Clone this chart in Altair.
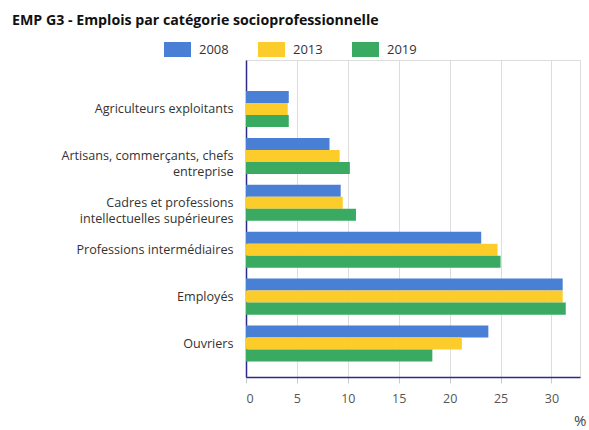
import altair as alt
import pandas as pd

categories = [
    "Agriculteurs exploitants",
    "Artisans, commerçants, chefs\nentreprise",
    "Cadres et professions\nintellectuelles supérieures",
    "Professions intermédiaires",
    "Employés",
    "Ouvriers",
]
years = ["2008", "2013", "2019"]
v2008 = [4.2, 8.2, 9.3, 23.1, 31.1, 23.8]
v2013 = [4.1, 9.2, 9.5, 24.7, 31.1, 21.2]
v2019 = [4.2, 10.2, 10.8, 25.0, 31.4, 18.3]
colors = ["#4a7fd6", "#fccd2a", "#3aaa62"]
x_ticks = [0, 5, 10, 15, 20, 25, 30]

rows = []
for y, vals in zip(years, [v2008, v2013, v2019]):
    for c, v in zip(categories, vals):
        rows.append({"cat": c, "year": y, "value": v})
df = pd.DataFrame(rows)

FONT = "Open Sans"

chart = alt.Chart(df).mark_bar().encode(
    x=alt.X(
        "value:Q",
        scale=alt.Scale(domain=[0, 32.8], nice=False, zero=True),
        axis=alt.Axis(
            values=x_ticks,
            title="%",
            titleAnchor="end",
            titleAlign="right",
            titleX=340,
            titleY=48,
            titleBaseline="alphabetic",
            titleFont=FONT,
            titleFontSize=15,
            titleFontWeight="normal",
            titleColor="#444",
            labelFont=FONT,
            labelFontSize=12.5,
            labelColor="#555",
            labelPadding=9,
            tickSize=6,
            tickColor="#cccccc",
            domainColor="#2b2b8c",
            domainWidth=1.5,
            grid=True,
            gridColor="#dddddd",
        ),
    ),
    y=alt.Y(
        "cat:N",
        sort=categories,
        scale=alt.Scale(paddingInner=0.232, paddingOuter=0.495, align=0.667),
        axis=alt.Axis(
            title=None,
            ticks=False,
            labelFont=FONT,
            labelFontSize=12.6,
            labelColor="#333",
            labelPadding=13,
            labelLimit=300,
            labelLineHeight=16,
            labelExpr="split(datum.value, '\\n')",
            domainColor="#2b2b8c",
            domainWidth=1.5,
            grid=False,
        ),
    ),
    yOffset=alt.YOffset("year:N", sort=years, scale=alt.Scale(paddingInner=0, paddingOuter=0)),
    color=alt.Color(
        "year:N",
        sort=years,
        scale=alt.Scale(domain=years, range=colors),
        legend=alt.Legend(
            title=None,
            orient="none",
            direction="horizontal",
            legendX=-76,
            legendY=-18,
            symbolType="M-1.8,-1L1.8,-1L1.8,1L-1.8,1Z",
            symbolSize=225,
            symbolStrokeWidth=0,
            symbolOpacity=1,
            labelFont=FONT,
            labelFontSize=13,
            labelColor="#333",
            labelOffset=14,
            columnPadding=29,
        ),
    ),
).properties(
    width=334,
    height=317,
    autosize=alt.AutoSizeParams(type="none"),
    padding={"left": 246, "top": 60, "right": 9, "bottom": 53},
    title=alt.TitleParams(
        "EMP G3 - Emplois par catégorie socioprofessionnelle",
        anchor="start",
        frame="group",
        dx=-234,
        offset=14,
        font=FONT,
        fontSize=14.2,
        fontWeight="bold",
        color="#111",
    ),
).configure_view(stroke=None).configure(background="white")

chart.save("out.html", embed_options={"renderer": "svg", "actions": False})
